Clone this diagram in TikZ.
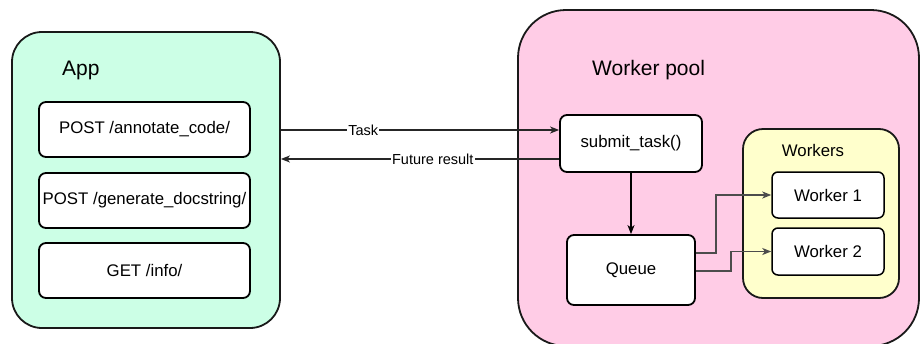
\documentclass[tikz,border=0pt]{standalone}
\usepackage{fontspec}
\setmainfont{Liberation Sans}
\usetikzlibrary{arrows.meta,calc}
\definecolor{appfill}{RGB}{204,255,230}
\definecolor{poolfill}{RGB}{255,204,230}
\definecolor{wfill}{RGB}{255,255,204}
\newcommand{\txtfont}{\fontsize{16.8}{20}\selectfont}
\newcommand{\lblfont}{\fontsize{14.5}{17}\selectfont}
\newcommand{\ttlfont}{\fontsize{21}{25}\selectfont}
\tikzset{
  group/.style={draw=black!90, line width=1.8pt, inner sep=0pt},
  item/.style={draw=black, line width=1.8pt, fill=white, rounded corners=7pt,
    inner sep=0pt, font=\txtfont, align=center},
  title/.style={inner sep=0pt, font=\ttlfont},
  arr/.style={line width=1.3pt, -{Stealth[length=9pt,width=7pt,inset=2.5pt]}},
  lbl/.style={fill=white, inner sep=1pt, font=\lblfont},
}
\begin{document}
\begin{tikzpicture}[x=1pt,y=-1pt]
\useasboundingbox (0,0) rectangle (920,343);

% left group: the web app and its endpoints
\node[group, fill=appfill, rounded corners=30pt, minimum width=268pt, minimum height=296pt]
  (app) at (146,180) {};
\node[title, anchor=base west] (apptitle) at (62,75) {App};
\node[item, minimum width=211pt, minimum height=55pt] (ep1) at (144.5,129.5) {POST /annotate\_code/};
\node[item, minimum width=211pt, minimum height=55pt] (ep2) at (144.5,200.5) {POST /generate\_docstring/};
\node[item, minimum width=211pt, minimum height=55pt] (ep3) at (144.5,270.5) {GET /info/};

% right group: the worker pool
\node[group, fill=poolfill, rounded corners=48pt, minimum width=401pt, minimum height=336pt]
  (pool) at (718.5,178) {};
\node[title, anchor=base west] (pooltitle) at (592,75) {Worker pool};
\node[item, minimum width=142pt, minimum height=57pt] (submit) at (631,143.5) {submit\_task()};
\node[item, minimum width=128pt, minimum height=70pt] (queue) at (631,270) {Queue};

% workers container
\node[group, fill=wfill, rounded corners=20pt, minimum width=156pt, minimum height=169pt]
  (workers) at (821,213.5) {};
\node[inner sep=0pt, font=\txtfont, anchor=base] (wtitle) at (813,156) {Workers};
\node[item, rounded corners=6pt, line width=1.5pt, minimum width=112pt, minimum height=46pt] (w1) at (828,195) {Worker 1};
\node[item, rounded corners=6pt, line width=1.5pt, minimum width=112pt, minimum height=47pt] (w2) at (828,251.5) {Worker 2};

% request / response between app and pool
\coordinate (taskin) at ([yshift=13.5pt]submit.west);
\coordinate (resout) at ([yshift=-15.5pt]submit.west);
\draw[arr, draw=black!85] (app.east |- taskin) -- node[lbl, pos=0.296] {Task} (taskin);
\draw[arr, draw=black!85] (resout) -- node[lbl, pos=0.454] {Future result} (app.east |- resout);

% submit to queue
\draw[arr] (submit.south) -- (queue.north);

% queue feeds both workers
\draw[arr, draw=black!70] ([yshift=17pt]queue.east) -- ++(20,0) |- (w1.west);
\draw[arr, draw=black!70] ([yshift=-1pt]queue.east) -- ++(35,0) |- (w2.west);
\end{tikzpicture}
\end{document}
